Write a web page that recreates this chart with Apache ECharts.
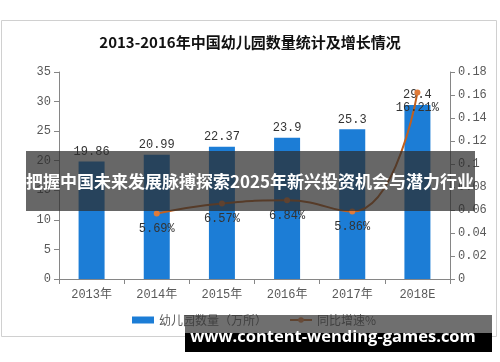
<!DOCTYPE html>
<html><head><meta charset="utf-8">
<script src="https://cdn.jsdelivr.net/npm/echarts@6/dist/echarts.min.js"></script>
<style>html,body{margin:0;padding:0;background:#fff}#c{width:500px;height:362px}</style>
</head><body><div id="c"></div>
<script>
const categories = ['2013年','2014年','2015年','2016年','2017年','2018E'];
const kindergartens = [19.86, 20.99, 22.37, 23.9, 25.3, 29.4];
const growth = [null, 0.0569, 0.0657, 0.0684, 0.0586, 0.1621];
const growthLabels = ['', '5.69%', '6.57%', '6.84%', '5.86%', '16.21%'];
const leftTicks = {min: 0, max: 35, interval: 5};
const rightTicks = {min: 0, max: 0.18, interval: 0.02};

const mono = '"Liberation Mono", "Noto Sans CJK SC", monospace';
const chart = echarts.init(document.getElementById('c'));
chart.setOption({
  animation: false,
  backgroundColor: '#fff',
  title: {
    text: '2013-2016年中国幼儿园数量统计及增长情况',
    left: 'center', top: 30,
    textStyle: {fontSize: 15, fontWeight: 'bold', color: '#111', fontFamily: '"Noto Sans CJK SC"'}
  },
  grid: {left: 59, right: 50, top: 72, bottom: 83},
  legend: {
    left: 127, top: 309, itemGap: 22, itemWidth: 22, itemHeight: 7,
    textStyle: {fontSize: 12, color: '#595959', fontFamily: '"Noto Sans CJK SC"'},
    data: [{name: '幼儿园数量（万所）', icon: 'rect'}, {name: '同比增速%'}]
  },
  xAxis: {
    type: 'category', data: categories,
    axisLine: {lineStyle: {color: '#868686'}},
    axisTick: {show: true, alignWithLabel: false, lineStyle: {color: '#868686'}},
    axisLabel: {color: '#595959', fontSize: 12, fontFamily: mono, margin: 10}
  },
  yAxis: [
    {type: 'value', min: leftTicks.min, max: leftTicks.max, interval: leftTicks.interval,
     splitLine: {show: false},
     axisLine: {show: true, lineStyle: {color: '#868686'}},
     axisTick: {show: true, lineStyle: {color: '#868686'}},
     axisLabel: {color: '#595959', fontSize: 12, fontFamily: mono, margin: 8}},
    {type: 'value', min: rightTicks.min, max: rightTicks.max, interval: rightTicks.interval,
     splitLine: {show: false},
     axisLine: {show: true, lineStyle: {color: '#868686'}},
     axisTick: {show: true, lineStyle: {color: '#868686'}},
     axisLabel: {color: '#595959', fontSize: 12, fontFamily: mono, margin: 8,
       formatter: v => v === 0 ? '0' : String(+v.toFixed(2))}}
  ],
  series: [
    {name: '幼儿园数量（万所）', type: 'bar', data: kindergartens, barWidth: 26,
     itemStyle: {color: '#1c7dd6'},
     label: {show: true, position: 'top', distance: 4, color: '#333', fontSize: 12, fontFamily: mono}},
    {name: '同比增速%', type: 'line', yAxisIndex: 1, data: growth, smooth: 0.5,
     connectNulls: false,
     symbol: 'circle', symbolSize: 6,
     lineStyle: {color: '#c0601f', width: 2},
     itemStyle: {color: '#e07b39'},
     label: {show: true, position: 'bottom', distance: 6, color: '#333', fontSize: 12, fontFamily: mono,
       formatter: p => growthLabels[p.dataIndex]}}
  ],
  graphic: [
    {type: 'rect', z: -1, silent: true, shape: {x: 1.5, y: 20.5, width: 495, height: 316},
     style: {fill: 'none', stroke: '#d0d0d0', lineWidth: 1}},
    {type: 'rect', z: 100, shape: {x: 26, y: 151, width: 449, height: 60},
     style: {fill: 'rgba(45,45,45,0.72)'}},
    {type: 'text', z: 101, x: 250, y: 182,
     style: {text: '把握中国未来发展脉搏探索2025年新兴投资机会与潜力行业', fill: '#fff',
       font: 'bold 17px "Noto Sans CJK SC", sans-serif', textAlign: 'center', textVerticalAlign: 'middle'}},
    {type: 'rect', z: 100, shape: {x: 185, y: 315, width: 307, height: 18},
     style: {fill: 'rgba(55,55,55,0.72)'}},
    {type: 'rect', z: 100, shape: {x: 185, y: 333, width: 307, height: 19},
     style: {fill: '#000'}},
    {type: 'text', z: 101, x: 333, y: 337,
     style: {text: 'www.content-wending-games.com', fill: '#fff',
       font: 'bold 16.5px "Open Sans", sans-serif', textAlign: 'center', textVerticalAlign: 'middle'}}
  ]
});
</script></body></html>
